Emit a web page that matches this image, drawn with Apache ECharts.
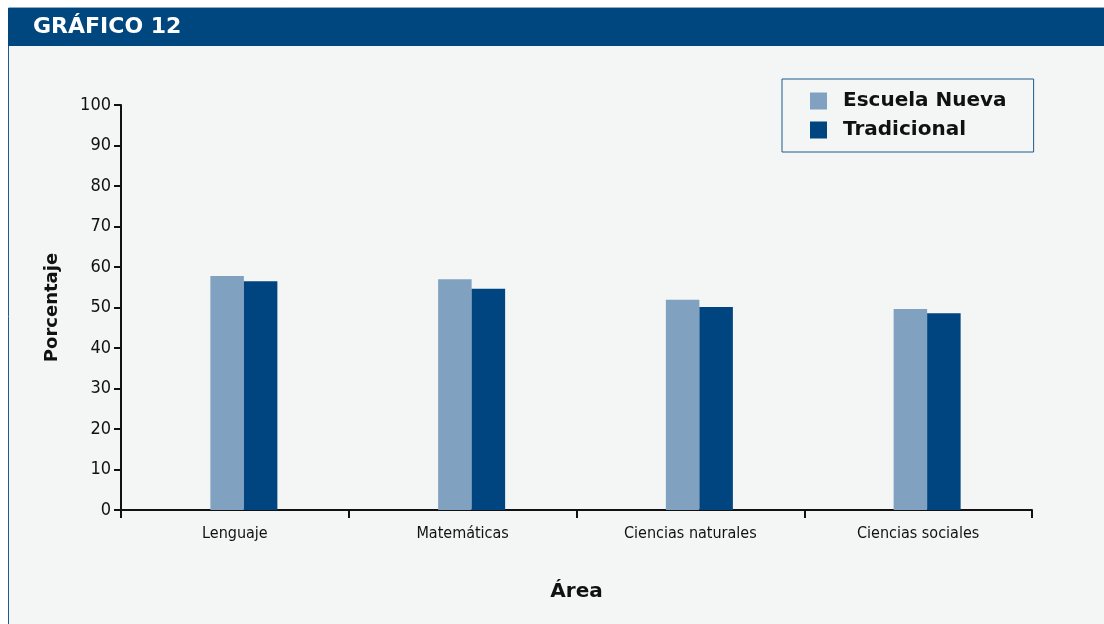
<!DOCTYPE html>
<html><head><meta charset="utf-8">
<script src="https://cdn.jsdelivr.net/npm/echarts@6/dist/echarts.min.js"></script>
<style>html,body{margin:0;padding:0;background:#fff}#c{width:1104px;height:624px}</style>
</head><body><div id="c"></div>
<script>
const categories = ['Lenguaje', 'Matemáticas', 'Ciencias naturales', 'Ciencias sociales'];
const escuelaNueva = [57.8, 57.0, 51.9, 49.6];
const tradicional = [56.5, 54.6, 50.1, 48.6];
const seriesNames = ['Escuela Nueva', 'Tradicional'];
const yTicks = [0, 10, 20, 30, 40, 50, 60, 70, 80, 90, 100];
const titleText = 'GRÁFICO 12';
const yName = 'Porcentaje';
const xName = 'Área';

const narrow = "'Liberation Sans Narrow','DejaVu Sans Condensed',sans-serif";
const bold = "'DejaVu Sans',sans-serif";
const chart = echarts.init(document.getElementById('c'));
const axisCol = '#111';
chart.setOption({
  animation: false,
  backgroundColor: '#ffffff',
  graphic: [
    {type: 'rect', z: -10, shape: {x: 8.5, y: 8, width: 1100, height: 620}, style: {fill: '#f4f5f5', stroke: '#1f5a8e', lineWidth: 1}},
    {type: 'rect', z: -9, shape: {x: 8, y: 8, width: 1096, height: 38}, style: {fill: '#00467f'}},
    {type: 'text', z: -8, left: 33, top: 16, style: {text: titleText, fill: '#ffffff', font: "bold 22px " + bold}}
  ],
  legend: {
    data: seriesNames,
    orient: 'vertical',
    left: 782, top: 79,
    padding: [11, 27, 11, 28],
    itemGap: 7,
    itemWidth: 17, itemHeight: 17,
    borderColor: '#1f5a8e', borderWidth: 1,
    backgroundColor: '#f4f5f5',
    icon: 'rect',
    textStyle: {fontFamily: bold, fontWeight: 'bold', fontSize: 20, color: '#111', padding: [0, 0, 0, 11], lineHeight: 22}
  },
  grid: [
    {left: 121, top: 105, width: 911, height: 405},
    {left: 130, top: 105, width: 911, height: 405}
  ],
  xAxis: [
    {type: 'category', gridIndex: 0, data: categories,
     axisLine: {lineStyle: {color: axisCol, width: 2}},
     axisTick: {show: true, length: 8, lineStyle: {color: axisCol, width: 2}},
     axisLabel: {color: '#111', fontFamily: narrow, fontSize: 16, margin: 16},
     name: xName, nameLocation: 'middle', nameGap: 72,
     nameTextStyle: {fontFamily: bold, fontWeight: 'bold', fontSize: 20, color: '#111'}},
    {type: 'category', gridIndex: 1, data: categories, show: false}
  ],
  yAxis: [
    {type: 'value', gridIndex: 0, min: 0, max: 100, interval: 10,
     axisLine: {show: true, lineStyle: {color: axisCol, width: 2}},
     axisTick: {show: true, length: 7, lineStyle: {color: axisCol, width: 2}},
     splitLine: {show: false},
     axisLabel: {color: '#111', fontFamily: narrow, fontSize: 18, margin: 10,
       formatter: v => yTicks.includes(v) ? String(v) : ''},
     name: yName, nameLocation: 'middle', nameGap: 60, nameRotate: 90,
     nameTextStyle: {fontFamily: bold, fontWeight: 'bold', fontSize: 18, color: '#111'}},
    {type: 'value', gridIndex: 1, min: 0, max: 100, show: false}
  ],
  series: [
    {name: seriesNames[0], type: 'bar', xAxisIndex: 1, yAxisIndex: 1, data: escuelaNueva,
     barWidth: 33.5, barGap: '0%', itemStyle: {color: '#80a2c0'}},
    {name: seriesNames[1], type: 'bar', xAxisIndex: 1, yAxisIndex: 1, data: tradicional,
     barWidth: 33.5, barGap: '0%', itemStyle: {color: '#00457f'}}
  ]
});
</script></body></html>
